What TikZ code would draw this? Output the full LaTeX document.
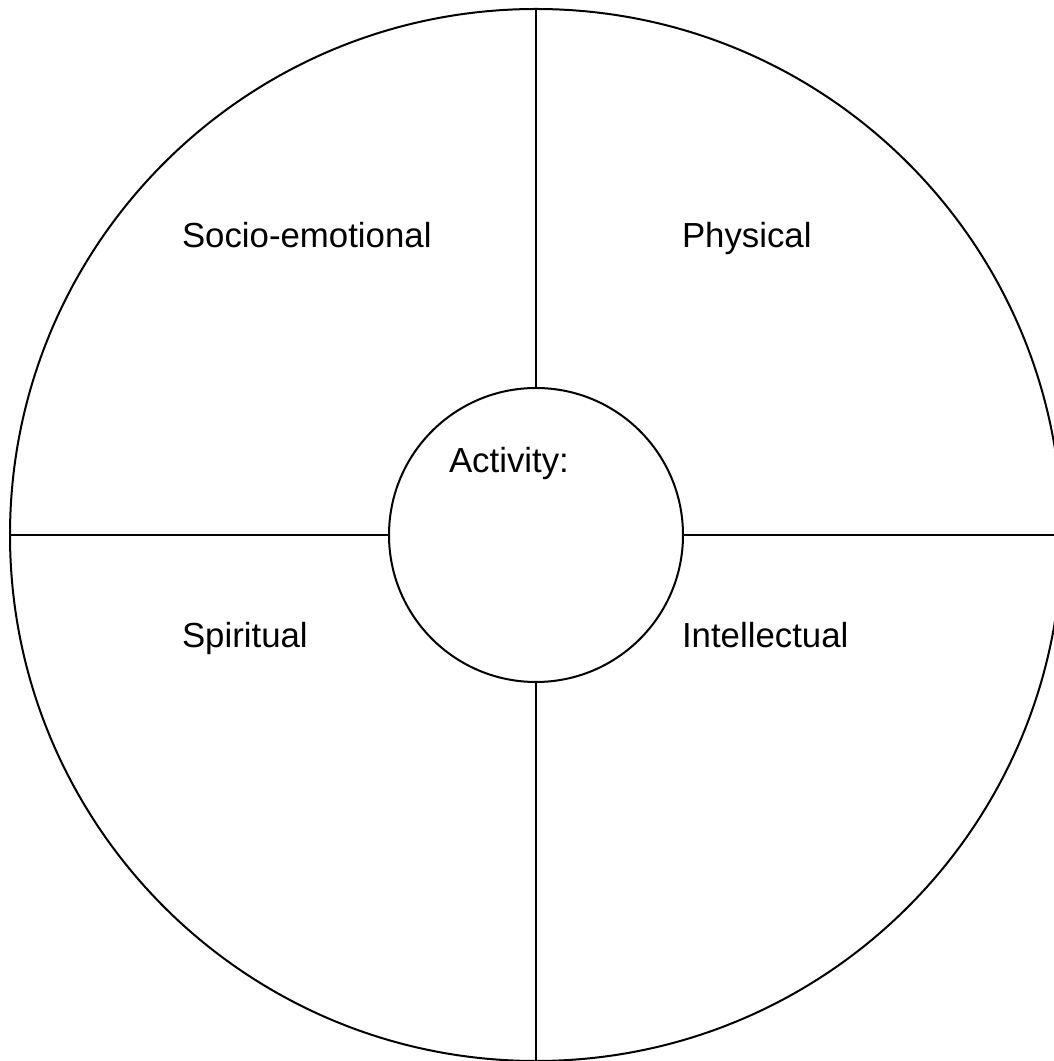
\documentclass[tikz,border=0pt]{standalone}
\usepackage{fontspec}
\setmainfont{Liberation Sans}
\usetikzlibrary{positioning}
\colorlet{ink}{black}

\begin{document}
\begin{tikzpicture}[x=0.5pt, y=0.5pt, line width=1pt,
    ring/.style={draw=ink, circle, inner sep=0pt},
    area/.style={font=\fontsize{17.4}{20}\selectfont, anchor=base west, inner sep=0pt}]

  % --- page frame ------------------------------------------------------------
  \useasboundingbox (0,0) rectangle (1054,1061);
  \clip (0,0) rectangle (1054,1061);

  % --- outer wheel and central hub -------------------------------------------
  \node[ring, minimum size=526pt] (wheel) at (536,526) {};
  \node[ring, minimum size=147pt, fill=white] (hub) at (536,526) {};

  % --- spokes dividing the four domains --------------------------------------
  \draw[ink] (wheel.north) -- (hub.north);
  \draw[ink] (hub.south) -- (wheel.south);
  \draw[ink] (wheel.west) -- (hub.west);
  \draw[ink] (hub.east) -- (wheel.east);

  % --- domain labels ---------------------------------------------------------
  \node[area] (socio) at (181,813) {Socio-emotional};
  \node[area] (phys)  at (681,813) {Physical};
  \node[area] (spir)  at (181,413) {Spiritual};
  \node[area] (intel) at (681,413) {Intellectual};
  \node[area] (act)   at (448,588) {Activity:};

\end{tikzpicture}
\end{document}
